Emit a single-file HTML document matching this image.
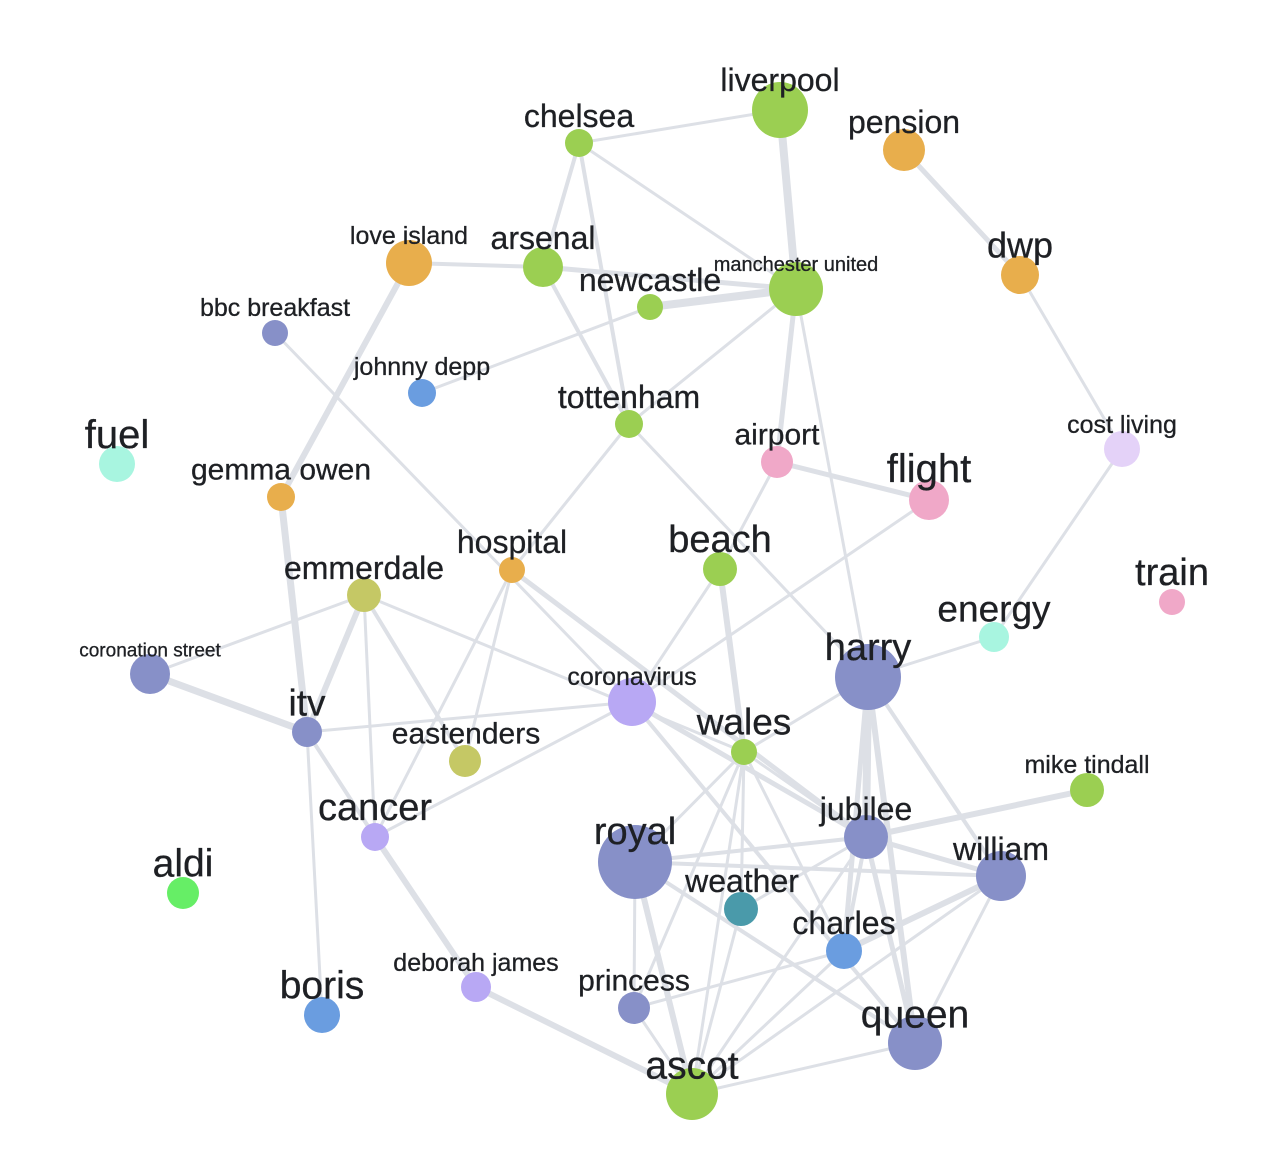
<!DOCTYPE html>
<html><head><meta charset="utf-8"><style>
html,body{margin:0;padding:0;background:#fff;}
svg{display:block;}
text{font-family:"Liberation Sans",sans-serif;fill:#1e2024;text-anchor:middle;dominant-baseline:central;stroke:#1e2024;stroke-width:0.3px;}
</style></head><body>
<svg width="1280" height="1159" viewBox="0 0 1280 1159" xmlns="http://www.w3.org/2000/svg">
<g stroke="#dde0e6" stroke-linecap="round" fill="none">
<line x1="579" y1="143" x2="780" y2="110" stroke-width="3"/>
<line x1="579" y1="143" x2="543" y2="267" stroke-width="4"/>
<line x1="579" y1="143" x2="629" y2="424" stroke-width="4"/>
<line x1="579" y1="143" x2="796" y2="289" stroke-width="3"/>
<line x1="780" y1="110" x2="796" y2="289" stroke-width="8"/>
<line x1="904" y1="150" x2="1020" y2="275" stroke-width="5"/>
<line x1="1020" y1="275" x2="1122" y2="449" stroke-width="3"/>
<line x1="409" y1="263" x2="543" y2="267" stroke-width="4"/>
<line x1="409" y1="263" x2="281" y2="497" stroke-width="6"/>
<line x1="543" y1="267" x2="796" y2="289" stroke-width="5"/>
<line x1="543" y1="267" x2="629" y2="424" stroke-width="4"/>
<line x1="650" y1="307" x2="796" y2="289" stroke-width="8"/>
<line x1="650" y1="307" x2="422" y2="393" stroke-width="3"/>
<line x1="796" y1="289" x2="777" y2="462" stroke-width="5"/>
<line x1="796" y1="289" x2="629" y2="424" stroke-width="3"/>
<line x1="796" y1="289" x2="868" y2="677" stroke-width="3"/>
<line x1="275" y1="333" x2="632" y2="702" stroke-width="3"/>
<line x1="629" y1="424" x2="512" y2="570" stroke-width="3"/>
<line x1="629" y1="424" x2="868" y2="677" stroke-width="3"/>
<line x1="777" y1="462" x2="929" y2="500" stroke-width="5"/>
<line x1="777" y1="462" x2="720" y2="569" stroke-width="3"/>
<line x1="929" y1="500" x2="632" y2="702" stroke-width="3"/>
<line x1="1122" y1="449" x2="994" y2="637" stroke-width="3"/>
<line x1="994" y1="637" x2="868" y2="677" stroke-width="3"/>
<line x1="281" y1="497" x2="307" y2="732" stroke-width="7"/>
<line x1="512" y1="570" x2="866" y2="837" stroke-width="5"/>
<line x1="512" y1="570" x2="465" y2="761" stroke-width="3"/>
<line x1="364" y1="595" x2="150" y2="674" stroke-width="3"/>
<line x1="364" y1="595" x2="307" y2="732" stroke-width="6"/>
<line x1="364" y1="595" x2="375" y2="837" stroke-width="3"/>
<line x1="364" y1="595" x2="465" y2="761" stroke-width="4"/>
<line x1="364" y1="595" x2="744" y2="752" stroke-width="3"/>
<line x1="150" y1="674" x2="307" y2="732" stroke-width="7"/>
<line x1="307" y1="732" x2="632" y2="702" stroke-width="3"/>
<line x1="307" y1="732" x2="322" y2="1015" stroke-width="3"/>
<line x1="307" y1="732" x2="375" y2="837" stroke-width="4"/>
<line x1="375" y1="837" x2="632" y2="702" stroke-width="3"/>
<line x1="375" y1="837" x2="476" y2="987" stroke-width="6"/>
<line x1="375" y1="837" x2="512" y2="570" stroke-width="3"/>
<line x1="720" y1="569" x2="744" y2="752" stroke-width="6"/>
<line x1="720" y1="569" x2="632" y2="702" stroke-width="3"/>
<line x1="632" y1="702" x2="866" y2="837" stroke-width="5"/>
<line x1="632" y1="702" x2="915" y2="1043" stroke-width="4"/>
<line x1="868" y1="677" x2="744" y2="752" stroke-width="3"/>
<line x1="868" y1="677" x2="866" y2="837" stroke-width="8"/>
<line x1="868" y1="677" x2="1001" y2="876" stroke-width="4"/>
<line x1="868" y1="677" x2="915" y2="1043" stroke-width="6"/>
<line x1="868" y1="677" x2="844" y2="951" stroke-width="5"/>
<line x1="744" y1="752" x2="635" y2="862" stroke-width="3"/>
<line x1="744" y1="752" x2="741" y2="909" stroke-width="3"/>
<line x1="744" y1="752" x2="692" y2="1094" stroke-width="3"/>
<line x1="744" y1="752" x2="634" y2="1008" stroke-width="3"/>
<line x1="744" y1="752" x2="844" y2="951" stroke-width="3"/>
<line x1="744" y1="752" x2="866" y2="837" stroke-width="3"/>
<line x1="866" y1="837" x2="1087" y2="790" stroke-width="6"/>
<line x1="866" y1="837" x2="635" y2="862" stroke-width="4"/>
<line x1="866" y1="837" x2="1001" y2="876" stroke-width="5"/>
<line x1="866" y1="837" x2="915" y2="1043" stroke-width="5"/>
<line x1="866" y1="837" x2="844" y2="951" stroke-width="4"/>
<line x1="866" y1="837" x2="692" y2="1094" stroke-width="3"/>
<line x1="866" y1="837" x2="741" y2="909" stroke-width="3"/>
<line x1="635" y1="862" x2="1001" y2="876" stroke-width="4"/>
<line x1="635" y1="862" x2="692" y2="1094" stroke-width="6"/>
<line x1="635" y1="862" x2="915" y2="1043" stroke-width="4"/>
<line x1="635" y1="862" x2="634" y2="1008" stroke-width="3"/>
<line x1="1001" y1="876" x2="844" y2="951" stroke-width="6"/>
<line x1="1001" y1="876" x2="915" y2="1043" stroke-width="3"/>
<line x1="1001" y1="876" x2="692" y2="1094" stroke-width="3"/>
<line x1="844" y1="951" x2="634" y2="1008" stroke-width="3"/>
<line x1="844" y1="951" x2="692" y2="1094" stroke-width="3"/>
<line x1="915" y1="1043" x2="692" y2="1094" stroke-width="3"/>
<line x1="476" y1="987" x2="692" y2="1094" stroke-width="6"/>
<line x1="741" y1="909" x2="692" y2="1094" stroke-width="3"/>
<line x1="634" y1="1008" x2="692" y2="1094" stroke-width="3"/>
</g>
<g>
<circle cx="780" cy="110" r="28" fill="#9bcf52"/>
<circle cx="579" cy="143" r="14" fill="#9bcf52"/>
<circle cx="904" cy="150" r="21" fill="#e8ae4c"/>
<circle cx="409" cy="263" r="23" fill="#e8ae4c"/>
<circle cx="543" cy="267" r="20" fill="#9bcf52"/>
<circle cx="650" cy="307" r="13" fill="#9bcf52"/>
<circle cx="796" cy="289" r="27" fill="#9bcf52"/>
<circle cx="1020" cy="275" r="19" fill="#e8ae4c"/>
<circle cx="275" cy="333" r="13" fill="#8790c8"/>
<circle cx="422" cy="393" r="14" fill="#6a9de0"/>
<circle cx="629" cy="424" r="14" fill="#9bcf52"/>
<circle cx="117" cy="464" r="18" fill="#a8f5e0"/>
<circle cx="1122" cy="449" r="18" fill="#e4d2f8"/>
<circle cx="777" cy="462" r="16" fill="#f0a8c8"/>
<circle cx="929" cy="500" r="20" fill="#f0a8c8"/>
<circle cx="281" cy="497" r="14" fill="#e8ae4c"/>
<circle cx="512" cy="570" r="13" fill="#e8ae4c"/>
<circle cx="720" cy="569" r="17" fill="#9bcf52"/>
<circle cx="364" cy="595" r="17" fill="#c5c865"/>
<circle cx="1172" cy="602" r="13" fill="#f0a8c8"/>
<circle cx="994" cy="637" r="15" fill="#a8f5e0"/>
<circle cx="150" cy="674" r="20" fill="#8790c8"/>
<circle cx="868" cy="677" r="33" fill="#8790c8"/>
<circle cx="632" cy="702" r="24" fill="#b8a8f4"/>
<circle cx="307" cy="732" r="15" fill="#8790c8"/>
<circle cx="744" cy="752" r="13" fill="#9bcf52"/>
<circle cx="465" cy="761" r="16" fill="#c5c865"/>
<circle cx="1087" cy="790" r="17" fill="#9bcf52"/>
<circle cx="375" cy="837" r="14" fill="#b8a8f4"/>
<circle cx="866" cy="837" r="22" fill="#8790c8"/>
<circle cx="635" cy="862" r="37" fill="#8790c8"/>
<circle cx="1001" cy="876" r="25" fill="#8790c8"/>
<circle cx="741" cy="909" r="17" fill="#4a9aaa"/>
<circle cx="183" cy="893" r="16" fill="#66ee66"/>
<circle cx="844" cy="951" r="18" fill="#6a9de0"/>
<circle cx="476" cy="987" r="15" fill="#b8a8f4"/>
<circle cx="634" cy="1008" r="16" fill="#8790c8"/>
<circle cx="322" cy="1015" r="18" fill="#6a9de0"/>
<circle cx="915" cy="1043" r="27" fill="#8790c8"/>
<circle cx="692" cy="1094" r="26" fill="#9bcf52"/>
</g>
<g>
<text x="780" y="80" font-size="32">liverpool</text>
<text x="579" y="116" font-size="32">chelsea</text>
<text x="904" y="122" font-size="32">pension</text>
<text x="409" y="236" font-size="25">love island</text>
<text x="543" y="238" font-size="32">arsenal</text>
<text x="650" y="280" font-size="32">newcastle</text>
<text x="796" y="265" font-size="20">manchester united</text>
<text x="1020" y="245" font-size="36">dwp</text>
<text x="275" y="308" font-size="25">bbc breakfast</text>
<text x="422" y="367" font-size="25">johnny depp</text>
<text x="629" y="397" font-size="32">tottenham</text>
<text x="117" y="435" font-size="40">fuel</text>
<text x="1122" y="425" font-size="25">cost living</text>
<text x="777" y="435" font-size="30">airport</text>
<text x="929" y="469" font-size="40">flight</text>
<text x="281" y="470" font-size="30">gemma owen</text>
<text x="512" y="542" font-size="32">hospital</text>
<text x="720" y="540" font-size="38">beach</text>
<text x="364" y="568" font-size="32">emmerdale</text>
<text x="1172" y="573" font-size="38">train</text>
<text x="994" y="609" font-size="37">energy</text>
<text x="150" y="651" font-size="19">coronation street</text>
<text x="868" y="648" font-size="38">harry</text>
<text x="632" y="677" font-size="25">coronavirus</text>
<text x="307" y="703" font-size="37">itv</text>
<text x="744" y="722" font-size="37">wales</text>
<text x="466" y="734" font-size="30">eastenders</text>
<text x="1087" y="765" font-size="25">mike tindall</text>
<text x="375" y="808" font-size="38">cancer</text>
<text x="866" y="809" font-size="32">jubilee</text>
<text x="635" y="832" font-size="38">royal</text>
<text x="1001" y="849" font-size="32">william</text>
<text x="742" y="881" font-size="32">weather</text>
<text x="844" y="923" font-size="32">charles</text>
<text x="476" y="963" font-size="25">deborah james</text>
<text x="634" y="981" font-size="30">princess</text>
<text x="322" y="986" font-size="39">boris</text>
<text x="915" y="1015" font-size="39">queen</text>
<text x="692" y="1066" font-size="39">ascot</text>
<text x="183" y="864" font-size="39">aldi</text>
</g>
</svg>
</body></html>
